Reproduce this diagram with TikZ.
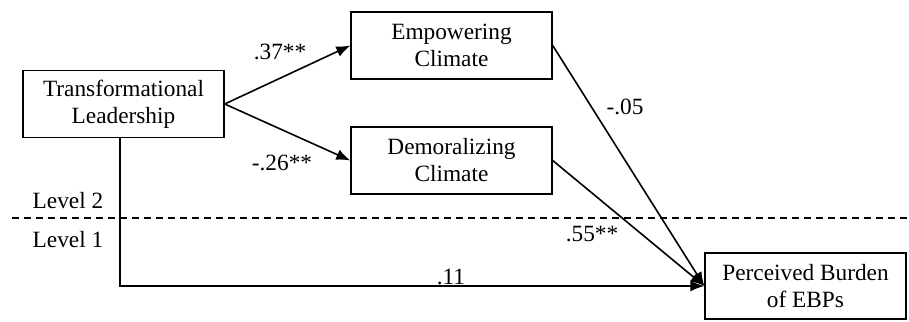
\documentclass[tikz,border=0pt]{standalone}
\usepackage{fontspec}
\setmainfont{Liberation Serif}
\usetikzlibrary{arrows.meta}
\begin{document}
\begin{tikzpicture}[x=1pt,y=-1pt,
  box/.style={draw,line width=1.4pt,rectangle,minimum width=201pt,minimum height=67pt,align=center,inner sep=0pt,font=\fontsize{23.3}{27}\selectfont},
  lbl/.style={inner sep=0pt,font=\fontsize{23.3}{27}\selectfont},
  conn/.style={line width=1.6pt,-{Latex[length=14pt,width=11pt]}},
  lvl/.style={line width=1.1pt,dash pattern=on 7pt off 5pt}]
\useasboundingbox (0,0) rectangle (909,321);
\node[box] (TL) at (123.5,104) {Transformational\\Leadership};
\node[box] (EC) at (451.5,45.5) {Empowering\\Climate};
\node[box] (DC) at (451.5,160.5) {Demoralizing\\Climate};
\node[box,minimum height=66pt] (PB) at (805.5,286) {Perceived Burden\\of EBPs};
\coordinate (L0) at (12,218);
\coordinate (L1) at (909,218);
\draw[lvl] (L0) -- (L1);
\node[lbl] (lv2) at (68,201) {Level 2};
\node[lbl] (lv1) at (68,240) {Level 1};
\draw[conn] (TL.east) -- (EC.west);
\draw[conn] (TL.east) -- (DC.west);
\draw[conn] (EC.east) -- (PB.west);
\draw[conn] (DC.east) -- (PB.west);
\draw[conn] ([xshift=-3.5pt]TL.south) |- (PB.west);
\node[lbl] (a1) at (280,52) {.37**};
\node[lbl] (a2) at (282,163) {-.26**};
\node[lbl] (a3) at (625,107) {-.05};
\node[lbl] (a4) at (592,234) {.55**};
\node[lbl] (a5) at (451,277) {.11};
\end{tikzpicture}
\end{document}
